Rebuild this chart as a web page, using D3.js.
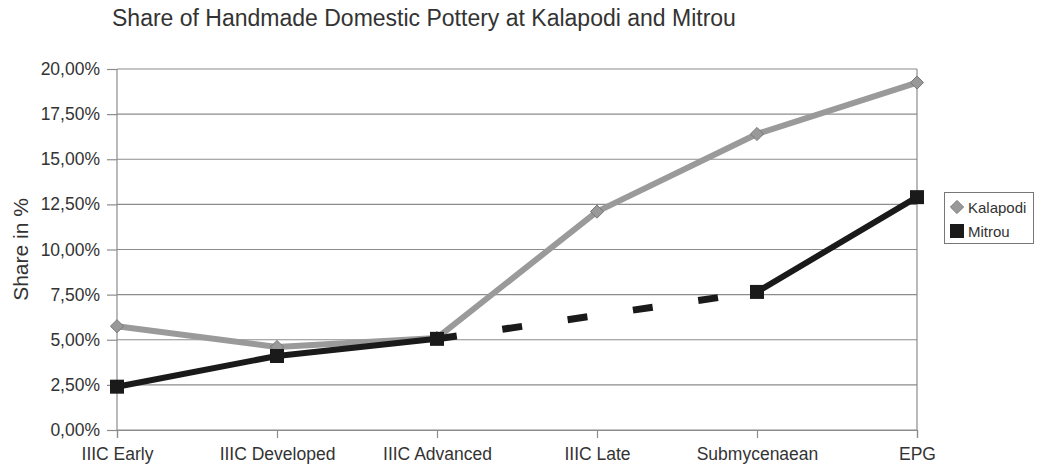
<!DOCTYPE html>
<html><head><meta charset="utf-8">
<script src="https://cdn.jsdelivr.net/npm/d3@7"></script>
<style>body{margin:0;background:#fff}svg{display:block}text{font-family:"Liberation Sans",Arial,sans-serif;fill:#333}</style>
</head><body>
<svg id="c" width="1040" height="471"></svg>
<script>
const categories = ["IIIC Early","IIIC Developed","IIIC Advanced","IIIC Late","Submycenaean","EPG"];
const kalapodi = [5.75, 4.6, 5.1, 12.1, 16.4, 19.25];
const mitrou = [2.4, 4.1, 5.05, null, 7.65, 12.9];
const yTicks = [0, 2.5, 5, 7.5, 10, 12.5, 15, 17.5, 20];
const title = "Share of Handmade Domestic Pottery at Kalapodi and Mitrou";
const yTitle = "Share in %";

const svg = d3.select("#c");
const L = 117, R = 917, T = 69, B = 430;
const x = d3.scalePoint().domain(categories).range([L, R]);
const y = d3.scaleLinear().domain([0, 20]).range([B, T]);
const fmt = v => d3.format(".2f")(v).replace(".", ",") + "%";

// gridlines
svg.append("g").selectAll("line").data(yTicks).join("line")
  .attr("x1", L).attr("x2", R).attr("y1", d => y(d)).attr("y2", d => y(d))
  .attr("stroke", "#8c8c8c").attr("stroke-width", 1.2);
svg.append("line").attr("x1", R).attr("x2", R).attr("y1", T).attr("y2", B).attr("stroke", "#8c8c8c").attr("stroke-width", 1.2);

// axes
const ya = svg.append("g").attr("transform", `translate(${L},0)`)
  .call(d3.axisLeft(y).tickValues(yTicks).tickFormat(fmt).tickSize(10).tickPadding(7));
const xa = svg.append("g").attr("transform", `translate(0,${B})`)
  .call(d3.axisBottom(x).tickSize(8).tickPadding(10));
[ya, xa].forEach(a => {
  a.selectAll("path,line").attr("stroke", "#8c8c8c").attr("stroke-width", 1.2);
  a.selectAll("text").attr("font-size", 17.5).attr("fill", "#333").style("font-family", '"Liberation Sans",Arial,sans-serif');
});
ya.select(".domain").attr("d", `M0,${T}V${B}`);

// titles
svg.append("text").attr("x", 112).attr("y", 26).attr("font-size", 23).text(title);
svg.append("text").attr("transform", `translate(28,${(T+B)/2}) rotate(-90)`)
  .attr("text-anchor", "middle").attr("font-size", 21).text(yTitle);

// Kalapodi
const line = d3.line().x((d, i) => x(categories[i])).y(d => y(d));
svg.append("path").datum(kalapodi).attr("d", line)
  .attr("fill", "none").attr("stroke", "#9a9a9a").attr("stroke-width", 6).attr("stroke-linejoin", "round");
const diamond = d3.symbol().type(d3.symbolDiamond2).size(110);
svg.append("g").selectAll("path").data(kalapodi).join("path")
  .attr("d", diamond).attr("transform", (d, i) => `translate(${x(categories[i])},${y(d)})`)
  .attr("fill", "#999").attr("stroke", "#777").attr("stroke-width", 1);

// Mitrou
const mline = d3.line().defined(d => d != null).x((d, i) => x(categories[i])).y(d => y(d));
const mIdx = mitrou.map((d, i) => [i, d]).filter(p => p[1] != null);
for (let k = 0; k < mIdx.length - 1; k++) {
  const [i0, v0] = mIdx[k], [i1, v1] = mIdx[k + 1];
  if (i1 - i0 > 1) {
    svg.append("line").attr("x1", x(categories[i0])).attr("y1", y(v0))
      .attr("x2", x(categories[i1])).attr("y2", y(v1))
      .attr("stroke", "#1a1a1a").attr("stroke-width", 7).attr("stroke-dasharray", "20,46").attr("stroke-dashoffset", 0);
  }
}
svg.append("path").datum(mitrou).attr("d", mline)
  .attr("fill", "none").attr("stroke", "#1a1a1a").attr("stroke-width", 6).attr("stroke-linejoin", "round");
svg.append("g").selectAll("rect").data(mIdx).join("rect")
  .attr("x", d => x(categories[d[0]]) - 7).attr("y", d => y(d[1]) - 7)
  .attr("width", 14).attr("height", 14).attr("fill", "#1a1a1a");

// legend
const lg = svg.append("g");
lg.append("rect").attr("x", 944.5).attr("y", 192.5).attr("width", 89).attr("height", 51)
  .attr("fill", "#fff").attr("stroke", "#777").attr("stroke-width", 1);
lg.append("path").attr("d", diamond).attr("transform", "translate(957,207)").attr("fill", "#999").attr("stroke", "#777");
lg.append("text").attr("x", 968).attr("y", 212.5).attr("font-size", 15).text("Kalapodi");
lg.append("rect").attr("x", 950).attr("y", 224).attr("width", 14).attr("height", 14).attr("fill", "#1a1a1a");
lg.append("text").attr("x", 968).attr("y", 236.5).attr("font-size", 15).text("Mitrou");
</script>
</body></html>
